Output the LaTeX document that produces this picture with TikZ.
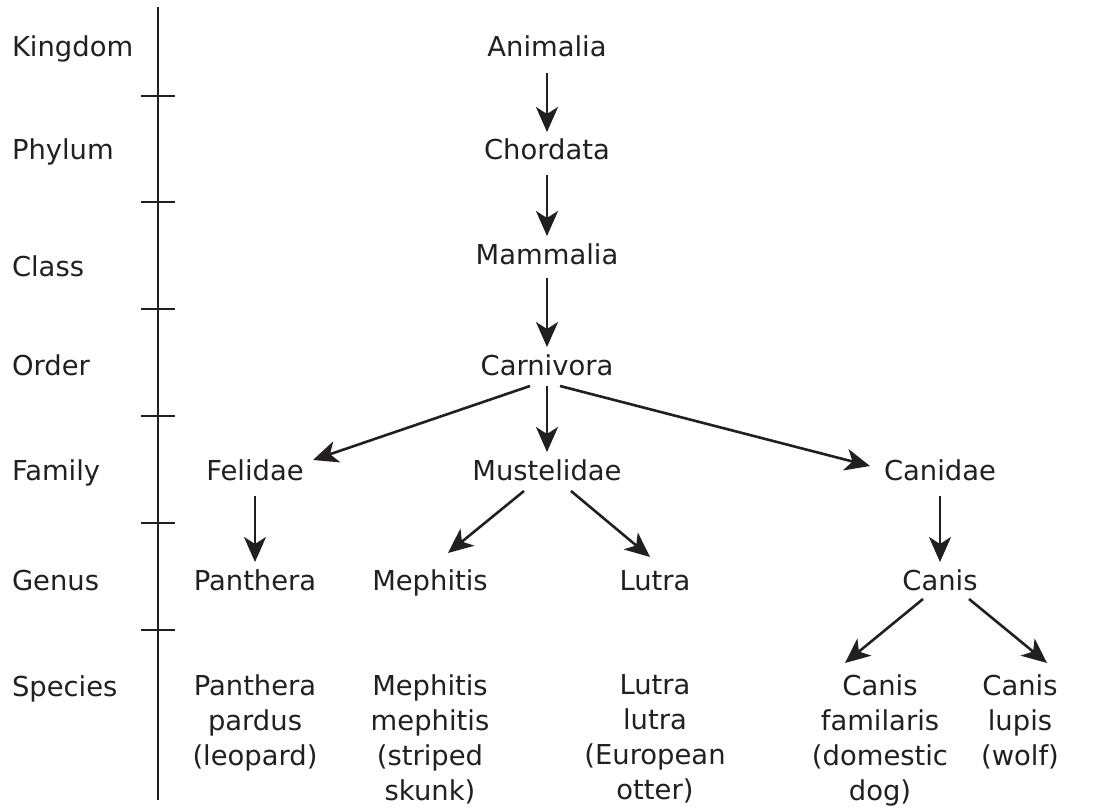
\documentclass[tikz,border=0pt]{standalone}
\usepackage{fontspec}
\setmainfont{DejaVu Sans}
\usetikzlibrary{arrows.meta,calc}
\definecolor{ink}{RGB}{35,31,32}
\begin{document}
\begin{tikzpicture}[x=0.5pt,y=-0.5pt,
  every node/.style={font=\fontsize{13.7}{17.5}\selectfont, text=ink, inner sep=0pt, outer sep=0pt},
  lab/.style={anchor=base west},
  taxon/.style={anchor=base, text height=10pt, text depth=3pt},
  spec/.style={anchor=north, align=center},
  arr/.style={draw=ink, line width=1.3pt, -{Stealth[length=12.5pt,width=11pt,inset=3.5pt]}},
  axisline/.style={draw=ink, line width=1.4pt}]
\useasboundingbox (0,0) rectangle (1099,808);
% rank labels
\node[lab] (lk) at (12,57) {Kingdom};
\node[lab] (lp) at (12,160) {Phylum};
\node[lab] (lc) at (12,277) {Class};
\node[lab] (lo) at (12,375) {Order};
\node[lab] (lf) at (12,480) {Family};
\node[lab] (lg) at (12,590) {Genus};
\node[lab] (ls) at (12,696) {Species};
% axis
\coordinate (atop) at (158,7);
\coordinate (abot) at (158,800);
\draw[axisline] (atop) -- (abot);
\foreach \y in {96,202,309,416,523,630}{
  \coordinate (tl) at (141,\y); \coordinate (tr) at (175,\y);
  \draw[axisline] (tl) -- (tr);
}
% taxa
\node[taxon] (anim) at (547,57) {Animalia};
\node[taxon] (chord) at (547,160) {Chordata};
\node[taxon] (mamm) at (547,264) {Mammalia};
\node[taxon] (carn) at (547,375) {Carnivora};
\node[taxon] (fel) at (255,480) {Felidae};
\node[taxon] (must) at (547,480) {Mustelidae};
\node[taxon] (canid) at (940,480) {Canidae};
\node[taxon] (panth) at (255,590) {Panthera};
\node[taxon] (meph) at (430,590) {Mephitis};
\node[taxon] (lutra) at (655,590) {Lutra};
\node[taxon] (canis) at (940,590) {Canis};
% species
\node[spec] (spp) at (255,675) {Panthera\\pardus\\(leopard)};
\node[spec] (spm) at (430,675) {Mephitis\\mephitis\\(striped\\skunk)};
\node[spec] (spl) at (655,675) {Lutra\\lutra\\(European\\otter)};
\node[spec] (spf) at (880,675) {Canis\\familaris\\(domestic\\dog)};
\node[spec] (spw) at (1020,675) {Canis\\lupis\\(wolf)};
% arrows
\draw[arr] ($(anim.south)+(0,10)$) -- ($(chord.north)+(0,-8)$);
\draw[arr] ($(chord.south)+(0,9)$) -- ($(mamm.north)+(0,-8)$);
\draw[arr] ($(mamm.south)+(0,8)$) -- ($(carn.north)+(0,-8)$);
\draw[arr] ($(carn.south)+(0,5)$) -- ($(must.north)+(0,-8)$);
\draw[arr] ($(carn.south)+(-17,5)$) -- ($(fel.north)+(58,0)$);
\draw[arr] ($(carn.south)+(13,5)$) -- ($(canid.north)+(-70,6)$);
\draw[arr] ($(fel.south)+(0,10)$) -- ($(panth.north)+(0,-8)$);
\draw[arr] ($(must.south)+(-23,5)$) -- ($(meph.north)+(18,-17)$);
\draw[arr] ($(must.south)+(24,5)$) -- ($(lutra.north)+(-5,-13)$);
\draw[arr] ($(canid.south)+(0,10)$) -- ($(canis.north)+(0,-8)$);
\draw[arr] ($(canis.south)+(-17,3)$) -- ($(spf.north)+(-35,-12)$);
\draw[arr] ($(canis.south)+(29,3)$) -- ($(spw.north)+(27,-12)$);
\end{tikzpicture}
\end{document}
